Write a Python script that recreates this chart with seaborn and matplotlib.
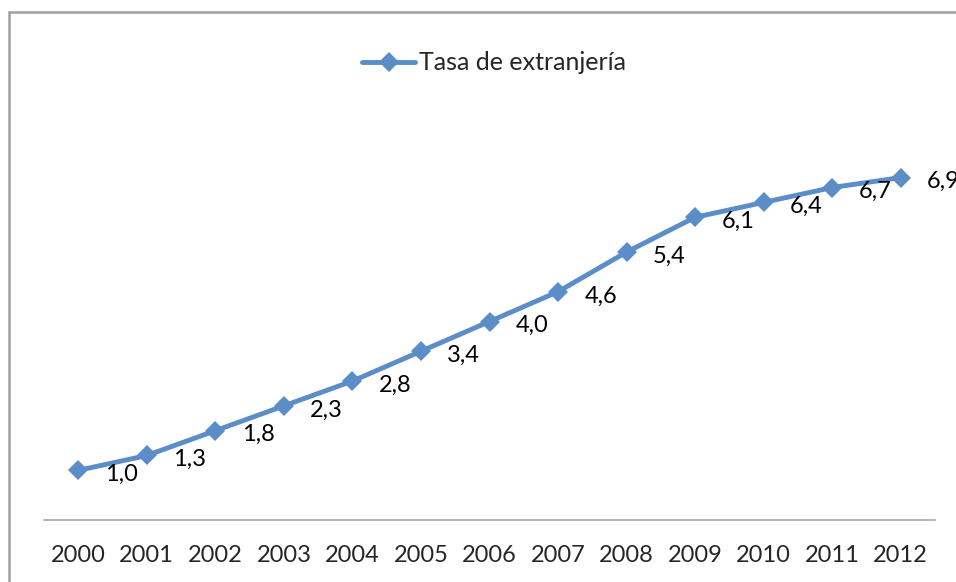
import numpy as np
import pandas as pd
import matplotlib.pyplot as plt
import seaborn as sns
from matplotlib.patches import Rectangle

# values
years = [2000, 2001, 2002, 2003, 2004, 2005, 2006, 2007, 2008, 2009, 2010, 2011, 2012]
tasa = [1.0, 1.3, 1.8, 2.3, 2.8, 3.4, 4.0, 4.6, 5.4, 6.1, 6.4, 6.7, 6.9]
serie = 'Tasa de extranjería'

df = pd.DataFrame({'year': years, 'tasa': tasa})

sns.set_style('white')
plt.rcParams['font.family'] = ['Lato', 'DejaVu Sans']

blue = '#5B8DC9'
fig = plt.figure(figsize=(9.56, 5.82), dpi=100)
ax = fig.add_axes([44 / 956, 1 - 520 / 582, (935 - 44) / 956, (520 - 123) / 582])

sns.lineplot(data=df, x='year', y='tasa', ax=ax, color=blue, linewidth=3.5,
             marker='D', markersize=10.5, markeredgewidth=0, label=serie)

# data labels, Spanish decimal comma, to the right of each point
for x, y in zip(years, tasa):
    ax.annotate(f'{y:.1f}'.replace('.', ','), (x, y), xytext=(19, -3),
                textcoords='offset points', ha='left', va='center',
                fontsize=17, color='black', annotation_clip=False)

ax.set_xlim(years[0] - 0.5, years[-1] + 0.5)
ax.set_ylim(0, 8)
ax.set_xticks(years)
ax.set_xticklabels([str(y) for y in years], fontsize=17)
ax.tick_params(axis='x', length=0, pad=18)
ax.set_yticks([])
ax.set_xlabel('')
ax.set_ylabel('')
for s in ['left', 'right', 'top']:
    ax.spines[s].set_visible(False)
ax.spines['bottom'].set_color('#A6A6A6')
ax.spines['bottom'].set_linewidth(1.2)

leg = ax.legend(loc='center', bbox_to_anchor=(494 / 956, 1 - 63 / 582),
                bbox_transform=fig.transFigure, frameon=False, fontsize=18,
                handlelength=2.1, handletextpad=0.15)

# chart area border (cropped on the right and bottom in the reference)
fig.patches.append(Rectangle((9 / 956, -0.1), 1.2, 1 - 12 / 582 + 0.1,
                             transform=fig.transFigure, fill=False,
                             edgecolor='#A0A0A0', linewidth=1.8))

fig.savefig('out.png', dpi=100)
